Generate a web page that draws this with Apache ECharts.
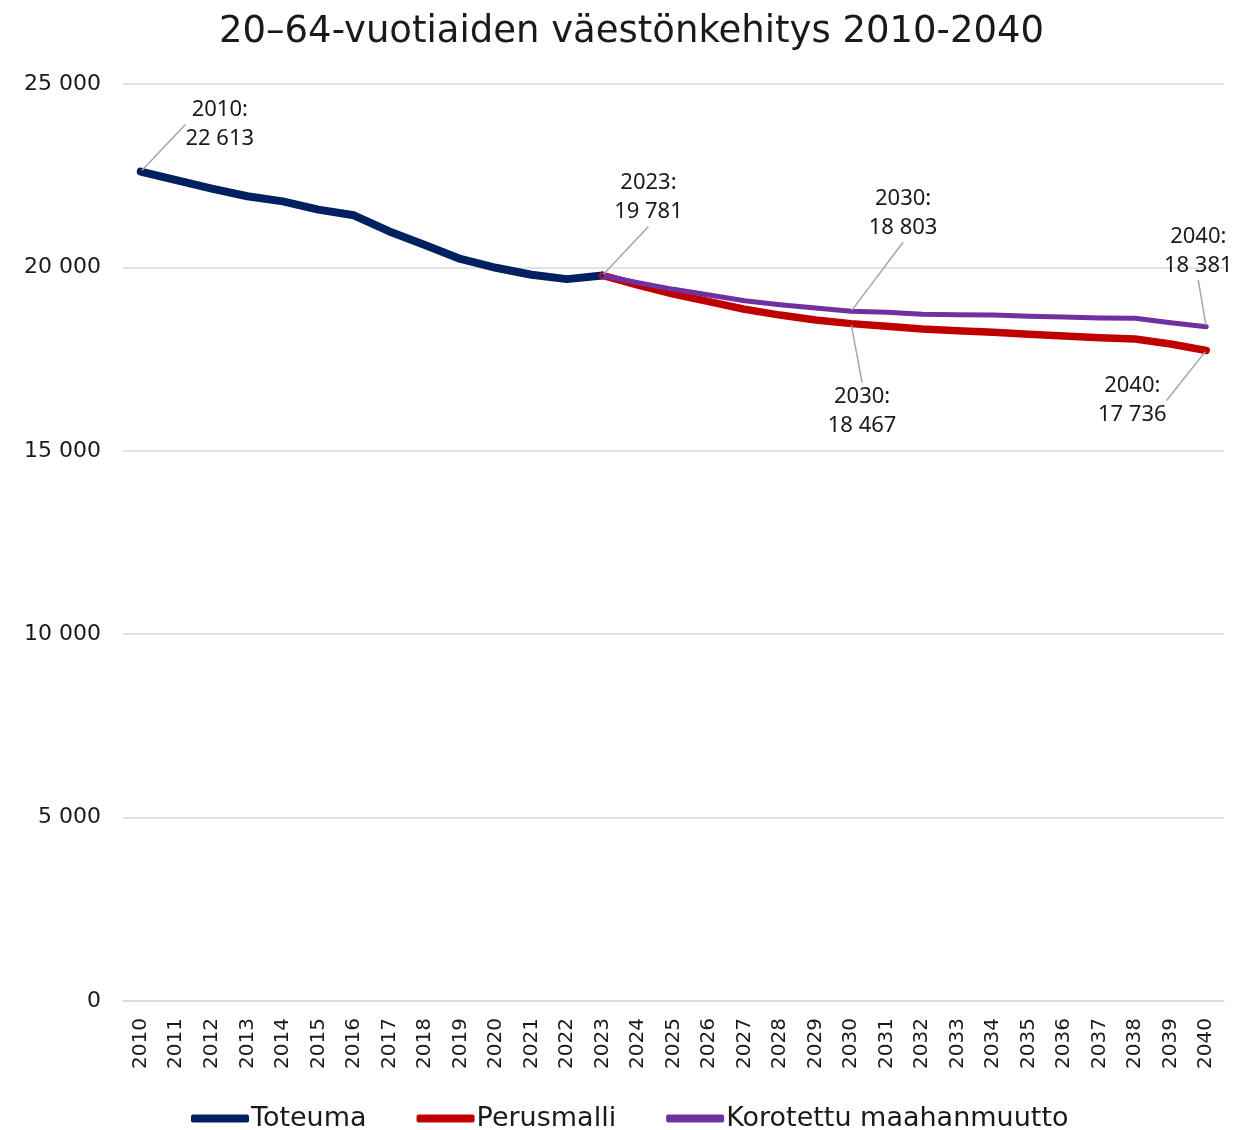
<!DOCTYPE html>
<html>
<head>
<meta charset="utf-8">
<script src="https://cdn.jsdelivr.net/npm/echarts@6/dist/echarts.min.js"></script>
<style>
  html, body { margin: 0; padding: 0; background: #fff; }
  #chart { width: 1234px; height: 1130px; }
</style>
</head>
<body>
<div id="chart"></div>
<script>
// Vuodet 2010–2040
const years = [];
for (let y = 2010; y <= 2040; y++) years.push(String(y));

// Toteutunut väestö 2010–2023
const toteuma = [22613, 22380, 22150, 21940, 21800, 21575, 21420, 20980, 20610, 20230, 19990, 19800, 19680, 19781];

// Ennuste, perusmalli 2023–2040
const perusmalli = [19781, 19520, 19275, 19065, 18858, 18700, 18565, 18467, 18394, 18320, 18274, 18229, 18175, 18129, 18084, 18048, 17912, 17736];

// Ennuste, korotettu maahanmuutto 2023–2040
const korotettu = [19781, 19583, 19402, 19247, 19092, 18983, 18893, 18803, 18776, 18721, 18712, 18702, 18666, 18648, 18620, 18611, 18492, 18381];

const yTicks = [0, 5000, 10000, 15000, 20000, 25000];

// Pad series to full year range
const pad = (arr, startYear) => years.map(y => {
  const i = Number(y) - startYear;
  return i >= 0 && i < arr.length ? arr[i] : null;
});

const fmt = v => String(Math.round(v)).replace(/\B(?=(\d{3})+(?!\d))/g, ' ');

// Annotated years per series and the label offsets (px)
const notes = {
  'Toteuma': { '2010': [79, -47], '2023': [46, -78] },
  'Perusmalli': { '2030': [11, 88], '2040': [-74, 50] },
  'Korotettu maahanmuutto': { '2030': [52, -98], '2040': [-8, -76] }
};

const textColor = '#1a1a1a';
const uiFont = 'DejaVu Sans';

function makeSeries(name, values, color, width) {
  const n = notes[name];
  const data = values.map((v, i) => {
    if (v == null) return null;
    const yr = years[i];
    if (n[yr]) {
      return {
        value: v,
        symbolSize: 3,
        label: {
          show: true,
          formatter: yr + ':\n' + fmt(v)
        },
        labelLine: { show: true }
      };
    }
    return { value: v, symbolSize: 0 };
  });
  return {
    name: name,
    type: 'line',
    data: data,
    symbol: 'circle',
    showAllSymbol: true,
    connectNulls: false,
    color: color,
    itemStyle: { color: color },
    lineStyle: { color: color, width: width, cap: 'round', join: 'round' },
    emphasis: { disabled: true },
    label: {
      show: false,
      position: 'inside',
      fontFamily: 'Noto Sans',
      fontSize: 22,
      lineHeight: 29,
      color: textColor,
      align: 'center',
      verticalAlign: 'middle'
    },
    labelLine: {
      show: false,
      lineStyle: { color: '#a6a6a6', width: 1.5 }
    },
    labelLayout: function (p) {
      const off = n[years[p.dataIndex]];
      if (!off) return {};
      return { dx: off[0], dy: off[1] };
    },
    z: 2
  };
}

const chart = echarts.init(document.getElementById('chart'), null, { renderer: 'canvas' });

chart.setOption({
  animation: false,
  backgroundColor: '#ffffff',
  title: {
    text: '20–64-vuotiaiden väestönkehitys 2010-2040',
    left: 214,
    top: 9,
    textStyle: {
      fontFamily: uiFont,
      fontWeight: 'normal',
      fontSize: 37,
      color: textColor
    }
  },
  legend: {
    bottom: -7,
    left: 186,
    itemWidth: 58,
    itemHeight: 8,
    itemGap: 50,
    icon: 'roundRect',
    textStyle: {
      fontFamily: uiFont,
      fontSize: 27,
      color: textColor,
      padding: [0, 0, 0, -3]
    },
    data: ['Toteuma', 'Perusmalli', 'Korotettu maahanmuutto']
  },
  grid: {
    left: 123,
    right: 10,
    top: 84,
    bottom: 129,
    containLabel: false
  },
  xAxis: {
    type: 'category',
    data: years,
    boundaryGap: true,
    axisLine: { show: true, lineStyle: { color: '#d9d9d9', width: 1.5 } },
    axisTick: { show: false },
    axisLabel: {
      interval: 0,
      rotate: 90,
      margin: 17,
      fontFamily: uiFont,
      fontSize: 20,
      color: textColor
    }
  },
  yAxis: {
    type: 'value',
    min: yTicks[0],
    max: yTicks[yTicks.length - 1],
    interval: yTicks[1] - yTicks[0],
    axisLine: { show: false },
    axisTick: { show: false },
    splitLine: { lineStyle: { color: '#d9d9d9', width: 1.5 } },
    axisLabel: {
      margin: 22,
      fontFamily: uiFont,
      fontSize: 22,
      color: textColor,
      formatter: v => fmt(v)
    }
  },
  series: [
    makeSeries('Toteuma', pad(toteuma, 2010), '#002060', 8),
    makeSeries('Perusmalli', pad(perusmalli, 2023), '#c00000', 7.5),
    makeSeries('Korotettu maahanmuutto', pad(korotettu, 2023), '#7030a0', 5)
  ]
});
</script>
</body>
</html>
